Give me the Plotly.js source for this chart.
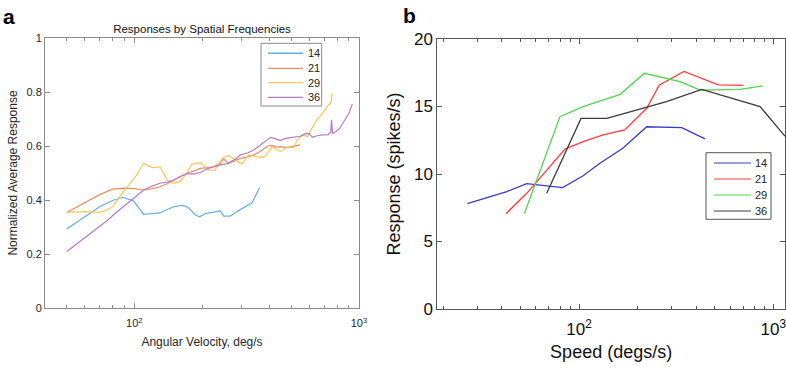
<!DOCTYPE html>
<html>
<head>
<meta charset="utf-8">
<script src="https://cdn.plot.ly/plotly-3.0.1.min.js"></script>
<style>html,body{margin:0;padding:0;background:#fff;}#chart{width:786px;height:370px;}</style>
</head>
<body>
<div id="chart"></div>
<script>
// ---------- Panel a data: Responses by Spatial Frequencies ----------
const seriesNamesA = ['14', '21', '29', '36'];
const a14x = [50, 56, 63, 70, 80, 89, 99, 104, 110, 120, 130, 140, 150, 163, 172, 180, 187, 195, 207, 225, 241, 250, 267, 286, 300, 318, 334, 346, 361];
const a14y = [0.293, 0.32, 0.35, 0.375, 0.398, 0.41, 0.397, 0.375, 0.347, 0.35, 0.352, 0.365, 0.375, 0.38, 0.375, 0.36, 0.344, 0.338, 0.35, 0.355, 0.36, 0.34, 0.34, 0.357, 0.367, 0.38, 0.39, 0.415, 0.446];
const a21x = [50, 60, 70, 80, 90, 100, 110, 120, 130, 140, 150, 160, 171, 185, 196, 210, 225, 240, 250, 262, 280, 297, 320, 340, 360, 376, 392, 410, 430, 447, 470, 495, 520, 546];
const a21y = [0.354, 0.39, 0.42, 0.44, 0.444, 0.442, 0.437, 0.442, 0.449, 0.46, 0.474, 0.488, 0.499, 0.508, 0.517, 0.52, 0.523, 0.535, 0.552, 0.535, 0.545, 0.554, 0.56, 0.567, 0.578, 0.588, 0.6, 0.602, 0.596, 0.598, 0.594, 0.597, 0.6, 0.604];
const a29x = [50, 60, 70, 75, 80, 90, 100, 110, 120, 130, 140, 149, 160, 168, 180, 196, 207, 214, 229, 245, 262, 282, 301, 323, 352, 376, 390, 410, 447, 479, 513, 531, 559, 589, 620, 641, 687, 723, 748, 761];
const a29y = [0.354, 0.357, 0.354, 0.362, 0.375, 0.435, 0.48, 0.535, 0.52, 0.523, 0.474, 0.462, 0.468, 0.49, 0.532, 0.538, 0.523, 0.511, 0.511, 0.554, 0.565, 0.548, 0.533, 0.567, 0.56, 0.558, 0.57, 0.597, 0.579, 0.595, 0.594, 0.622, 0.641, 0.635, 0.672, 0.69, 0.721, 0.748, 0.759, 0.795];
const a36x = [50, 55, 60, 65, 70, 76, 82, 90, 100, 110, 120, 130, 140, 150, 160, 172, 185, 196, 210, 225, 241, 260, 280, 297, 320, 340, 364, 390, 404, 420, 447, 470, 513, 548, 575, 600, 620, 650, 690, 730, 748, 755, 762, 790, 820, 857, 902, 934];
const a36y = [0.209, 0.235, 0.26, 0.282, 0.301, 0.325, 0.35, 0.378, 0.41, 0.437, 0.452, 0.462, 0.466, 0.474, 0.487, 0.497, 0.497, 0.502, 0.515, 0.523, 0.53, 0.535, 0.55, 0.567, 0.575, 0.585, 0.604, 0.622, 0.632, 0.628, 0.62, 0.628, 0.632, 0.636, 0.645, 0.647, 0.632, 0.638, 0.641, 0.642, 0.652, 0.697, 0.647, 0.654, 0.665, 0.69, 0.721, 0.756];
const colorsA = ['#62AEDD', '#EE8C66', '#F9C65A', '#B57AC6'];

// ---------- Panel b data: Response vs Speed ----------
const seriesNamesB = ['14', '21', '29', '36'];
const b14x = [26.6, 42.5, 53.8, 82.4, 105, 128, 168, 223, 338, 445];
const b14y = [7.8, 8.7, 9.28, 8.99, 9.87, 10.8, 11.9, 13.5, 13.43, 12.6];
const b21x = [42.1, 53.8, 84.7, 105, 133, 172, 223, 259, 347, 521, 701];
const b21y = [7.06, 8.57, 11.85, 12.4, 12.9, 13.26, 14.87, 16.6, 17.6, 16.6, 16.57];
const b29x = [52.3, 79.8, 105, 163, 217, 331, 420, 674, 881];
const b29y = [7.06, 14.25, 14.99, 15.9, 17.46, 16.84, 16.22, 16.27, 16.52];
const b36x = [68.2, 102.4, 139, 214, 282, 428, 855, 1148];
const b36y = [8.57, 14.12, 14.12, 14.87, 15.36, 16.27, 14.99, 12.8];
const colorsB = ['#3A3AC8', '#FF3C3C', '#4CD64C', '#3A3A3A'];

// tick labels
const xTickValsA = [100, 1000];
const xTickTextA = ['10<sup>2</sup>', '10<sup>3</sup>'];
const xMinorA = [50, 60, 70, 80, 90, 200, 300, 400, 500, 600, 700, 800, 900];
const yTickValsA = [0, 0.2, 0.4, 0.6, 0.8, 1];
const yTickTextA = ['0', '0.2', '0.4', '0.6', '0.8', '1'];
const xTickValsB = [100, 1000];
const xTickTextB = ['10<sup>2</sup>', '10<sup>3</sup>'];
const xMinorB = [20, 30, 40, 50, 60, 70, 80, 90, 200, 300, 400, 500, 600, 700, 800, 900];
const yTickValsB = [0, 5, 10, 15, 20];

const W = 786, H = 370;
const px = v => v / W;
const py = v => 1 - v / H;

const dataA = [[a14x, a14y], [a21x, a21y], [a29x, a29y], [a36x, a36y]];
const dataB = [[b14x, b14y], [b21x, b21y], [b29x, b29y], [b36x, b36y]];

const traces = [];
dataA.forEach((d, i) => traces.push({
  x: d[0], y: d[1], type: 'scatter', mode: 'lines', name: seriesNamesA[i],
  line: {color: colorsA[i], width: 1.2}, xaxis: 'x', yaxis: 'y', showlegend: false
}));
dataB.forEach((d, i) => traces.push({
  x: d[0], y: d[1], type: 'scatter', mode: 'lines', name: seriesNamesB[i],
  line: {color: colorsB[i], width: 1.3}, xaxis: 'x2', yaxis: 'y2', showlegend: false
}));

const FONT = 'Liberation Sans, Arial, sans-serif';
const shapes = [];
const annotations = [];

// panel labels
annotations.push({text: '<b>a</b>', xref: 'paper', yref: 'paper', x: px(1), y: py(3), xanchor: 'left', yanchor: 'top', showarrow: false, font: {family: FONT, size: 21, color: '#000'}});
annotations.push({text: '<b>b</b>', xref: 'paper', yref: 'paper', x: px(401), y: py(2), xanchor: 'left', yanchor: 'top', showarrow: false, font: {family: FONT, size: 21, color: '#000'}});

// custom legend panel a
shapes.push({type: 'rect', xref: 'paper', yref: 'paper', x0: px(261), x1: px(321.7), y0: py(43.3), y1: py(106), line: {color: '#8a8a8a', width: 1}, fillcolor: '#fff', layer: 'above'});
const rowsA = [53.3, 68.3, 82.7, 97.3];
seriesNamesA.forEach((n, i) => {
  shapes.push({type: 'line', xref: 'paper', yref: 'paper', x0: px(268), x1: px(303), y0: py(rowsA[i]), y1: py(rowsA[i]), line: {color: colorsA[i], width: i === 0 ? 1.6 : 1.2}, layer: 'above'});
  annotations.push({text: n, xref: 'paper', yref: 'paper', x: px(306), y: py(rowsA[i]), xanchor: 'left', yanchor: 'middle', showarrow: false, font: {family: FONT, size: 11, color: '#222'}});
});

// custom legend panel b
shapes.push({type: 'rect', xref: 'paper', yref: 'paper', x0: px(706), x1: px(771), y0: py(152.7), y1: py(219.3), line: {color: '#555', width: 1}, fillcolor: '#fff', layer: 'above'});
const rowsB = [163, 179, 195, 211];
seriesNamesB.forEach((n, i) => {
  shapes.push({type: 'line', xref: 'paper', yref: 'paper', x0: px(714), x1: px(751), y0: py(rowsB[i]), y1: py(rowsB[i]), line: {color: colorsB[i], width: 1.2}, layer: 'above'});
  annotations.push({text: n, xref: 'paper', yref: 'paper', x: px(753), y: py(rowsB[i]), xanchor: 'left', yanchor: 'middle', showarrow: false, font: {family: FONT, size: 11, color: '#222'}});
});

const layout = {
  width: W, height: H,
  margin: {l: 0, r: 0, t: 0, b: 0},
  paper_bgcolor: '#fff', plot_bgcolor: '#fff',
  font: {family: FONT, color: '#262626'},
  showlegend: false,
  title: {text: 'Responses by Spatial Frequencies', font: {family: FONT, size: 11.5, color: '#111'}, x: px(202), xanchor: 'center', y: py(29), yanchor: 'middle', xref: 'paper', yref: 'paper'},
  xaxis: {
    type: 'log', range: [Math.log10(40), 3.0], domain: [px(45), px(359)], anchor: 'y',
    tickmode: 'array', tickvals: xTickValsA, ticktext: xTickTextA, ticklabeloverflow: 'allow', ticklabelstandoff: 5,
    ticks: 'inside', ticklen: 5, tickcolor: '#8a8a8a', showline: true, linecolor: '#8a8a8a', linewidth: 1, mirror: 'ticks',
    showgrid: false, zeroline: false, tickfont: {family: FONT, size: 11, color: '#262626'},
    minor: {tickmode: 'array', tickvals: xMinorA, ticks: 'inside', ticklen: 3, tickcolor: '#8a8a8a', showgrid: false},
    title: {text: 'Angular Velocity, deg/s', font: {family: FONT, size: 12, color: '#262626'}, standoff: 9}
  },
  yaxis: {
    range: [0, 1], domain: [py(308), py(38)], anchor: 'x',
    tickmode: 'array', tickvals: yTickValsA, ticktext: yTickTextA,
    ticks: 'inside', ticklen: 5, tickcolor: '#8a8a8a', showline: true, linecolor: '#8a8a8a', linewidth: 1, mirror: 'ticks',
    showgrid: false, zeroline: false, tickfont: {family: FONT, size: 11, color: '#262626'},
    title: {text: 'Normalized Average Response', font: {family: FONT, size: 12, color: '#262626'}, standoff: 6}
  },
  xaxis2: {
    type: 'log', range: [1.2707, 3.060], domain: [px(437.3), px(785)], anchor: 'y2',
    tickmode: 'array', tickvals: xTickValsB, ticktext: xTickTextB, ticklabeloverflow: 'allow', ticklabelstandoff: 5,
    ticks: 'inside', ticklen: 5, tickcolor: '#555', showline: true, linecolor: '#555', linewidth: 1, mirror: 'ticks',
    showgrid: false, zeroline: false, tickfont: {family: FONT, size: 17, color: '#111'},
    minor: {tickmode: 'array', tickvals: xMinorB, ticks: 'inside', ticklen: 3, tickcolor: '#555', showgrid: false},
    title: {text: 'Speed (degs/s)', font: {family: FONT, size: 18, color: '#111'}, standoff: 6}
  },
  yaxis2: {
    range: [0, 20], domain: [py(309), py(39)], anchor: 'x2',
    tickmode: 'array', tickvals: yTickValsB,
    ticks: 'inside', ticklen: 5, tickcolor: '#555', showline: true, linecolor: '#555', linewidth: 1, mirror: 'ticks',
    showgrid: false, zeroline: false, tickfont: {family: FONT, size: 17, color: '#111'},
    title: {text: 'Response (spikes/s)', font: {family: FONT, size: 18, color: '#111'}, standoff: 8}
  },
  shapes: shapes,
  annotations: annotations
};

Plotly.newPlot('chart', traces, layout, {staticPlot: true, displayModeBar: false});
</script>
</body>
</html>
